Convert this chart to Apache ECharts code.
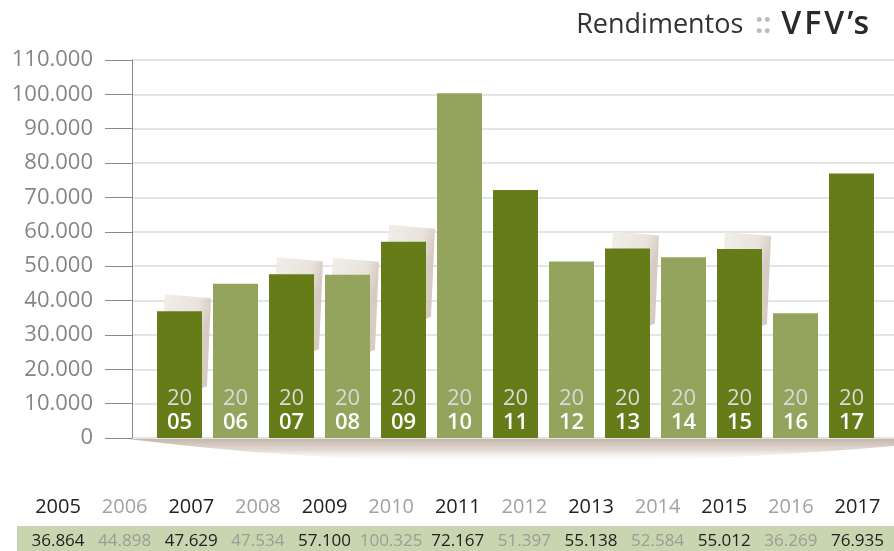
<!DOCTYPE html>
<html>
<head>
<meta charset="utf-8">
<script src="https://cdn.jsdelivr.net/npm/echarts@6/dist/echarts.min.js"></script>
<style>
  html, body { margin: 0; padding: 0; background: #fff; }
  #chart { width: 894px; height: 551px; }
</style>
</head>
<body>
<div id="chart"></div>
<script>
// anos e rendimentos
const anos = ['2005', '2006', '2007', '2008', '2009', '2010', '2011', '2012', '2013', '2014', '2015', '2016', '2017'];
const rendimentos = [36864, 44898, 47629, 47534, 57100, 100325, 72167, 51397, 55138, 52584, 55012, 36269, 76935];
const yTicks = [0, 10000, 20000, 30000, 40000, 50000, 60000, 70000, 80000, 90000, 100000, 110000];
// barras com "folha" atras
const comSombra = ['2005', '2007', '2008', '2009', '2013', '2015'];

const verdeEscuro = '#667c18';
const verdeClaro = '#94a45c';
const fonte = '"Open Sans", sans-serif';

const fmt = v => v.toLocaleString('de-DE');  // 36.864

// gradiente simples (objeto, sem construtor)
const grad = (x2, y2, stops) => ({
  type: 'linear', x: 0, y: 0, x2: x2, y2: y2,
  colorStops: stops.map(s => ({ offset: s[0], color: s[1] }))
});

// contorno da sombra curva por baixo das barras (curva quadratica)
function curvaSombra() {
  const pts = [];
  for (let k = 0; k <= 40; k++) {
    const t = k / 40;
    const x = (1 - t) * (1 - t) * 128 + 2 * t * (1 - t) * 470 + t * t * 894;
    const y = (1 - t) * (1 - t) * 439 + 2 * t * (1 - t) * 482 + t * t * 446;
    pts.push([x, y]);
  }
  pts.push([894, 438], [128, 438]);
  return pts;
}

const chart = echarts.init(document.getElementById('chart'));

const option = {
  animation: false,
  textStyle: { fontFamily: fonte },
  title: {
    right: 17,
    top: 0,
    text: '{r|Rendimentos}{c|::}{v|V}{v|F}{v|V}{v|’s}',
    textStyle: {
      fontWeight: 'normal',
      rich: {
        r: { fontSize: 27, color: '#333', fontWeight: 'normal', fontFamily: fonte, lineHeight: 40 },
        c: { fontSize: 28, color: '#bcbcbc', fontWeight: 'bold', fontFamily: fonte, lineHeight: 40, padding: [0, 10, 0, 12] },
        v: { fontSize: 32, color: '#2a2a2a', fontWeight: 600, fontFamily: fonte, lineHeight: 40, padding: [0, 3, 0, 0] }
      }
    }
  },
  graphic: [
    { // sombra curva por baixo das barras
      type: 'polygon', z: -5,
      shape: { points: curvaSombra() },
      style: { fill: grad(0, 1, [[0, '#c2b5a8'], [0.5, '#e2dad2'], [1, 'rgba(255,255,255,0)']]) }
    },
    { // faixa verde da tabela
      type: 'rect', z: -10,
      shape: { x: 17, y: 526, width: 877, height: 25 },
      style: { fill: '#c9d4b0' }
    }
  ],
  grid: [
    { left: 132, right: 0, top: 60, bottom: 113 },
    { left: 151.5, right: 14.5, top: 60, bottom: 113 },
    { left: 24.7, right: 3.2, top: 490, height: 1 }
  ],
  xAxis: [
    { gridIndex: 0, type: 'value', min: 0, max: 1, show: false },
    { gridIndex: 1, type: 'category', data: anos, show: false },
    {
      gridIndex: 2, type: 'category', data: anos, position: 'bottom',
      axisLine: { show: false }, axisTick: { show: false },
      axisLabel: {
        margin: 5, interval: 0,
        formatter: (v, i) => (i % 2 ? '{l|' : '{d|') + v + '}',
        rich: {
          d: { fontSize: 20, color: '#222', fontFamily: fonte, lineHeight: 22 },
          l: { fontSize: 20, color: '#a2a2a2', fontFamily: fonte, lineHeight: 22 }
        }
      }
    },
    {
      gridIndex: 2, type: 'category', data: rendimentos.map(fmt), position: 'bottom',
      axisLine: { show: false }, axisTick: { show: false },
      axisLabel: {
        margin: 40, interval: 0,
        formatter: (v, i) => (i % 2 ? '{l|' : '{d|') + v + '}',
        rich: {
          d: { fontSize: 17, color: '#222', fontFamily: fonte, lineHeight: 20 },
          l: { fontSize: 17, color: '#9a9e94', fontFamily: fonte, lineHeight: 20 }
        }
      }
    }
  ],
  yAxis: [
    {
      gridIndex: 0, type: 'value', min: 0, max: 110000, interval: 10000,
      axisLine: { show: true, lineStyle: { color: '#8a8a8a', width: 1 } },
      axisTick: { show: true, length: 27, lineStyle: { color: '#8a8a8a', width: 1 } },
      splitLine: { lineStyle: { color: '#e4e4e4', width: 2 } },
      axisLabel: {
        margin: 39, fontSize: 22, color: '#858585', fontFamily: fonte,
        padding: [0, 0, 14, 0],
        formatter: v => yTicks.indexOf(v) >= 0 ? fmt(v) : ''
      }
    },
    { gridIndex: 1, type: 'value', min: 0, max: 110000, interval: 10000, show: false },
    { gridIndex: 2, type: 'value', min: 0, max: 1, show: false }
  ],
  series: [
    {
      type: 'custom',
      xAxisIndex: 1, yAxisIndex: 1, z: 1,
      data: anos.map((a, i) => [i, rendimentos[i], comSombra.indexOf(a) >= 0 ? 1 : 0]),
      renderItem: (params, api) => {
        if (!api.value(2)) return null;
        const p = api.coord([api.value(0), api.value(1)]);
        const L = p[0] - 22.5, R = p[0] + 22.5, T = p[1];
        return {
          type: 'polygon',
          shape: { points: [[L + 8, T - 17], [R + 9, T - 13], [R + 5, T + 75], [L, T + 95]] },
          style: {
            fill: grad(1, 0.15, [[0, '#f2eee9'], [0.75, '#e8e1da'], [1, '#d2c7bc']]),
            opacity: 0.9
          }
        };
      }
    },
    {
      type: 'bar',
      xAxisIndex: 1, yAxisIndex: 1, z: 3,
      barWidth: 45,
      data: rendimentos.map((v, i) => ({
        value: v,
        itemStyle: { color: i % 2 ? verdeClaro : verdeEscuro }
      })),
      label: {
        show: true, position: 'insideBottom', distance: 3,
        formatter: p => '{a|20}\n{b|' + p.name.slice(2) + '}',
        rich: {
          a: { fontSize: 22, color: '#d9d9d9', fontFamily: fonte, lineHeight: 24 },
          b: { fontSize: 22, color: '#ffffff', fontWeight: 600, fontFamily: fonte, lineHeight: 24 }
        }
      }
    }
  ]
};

chart.setOption(option);
</script>
</body>
</html>
